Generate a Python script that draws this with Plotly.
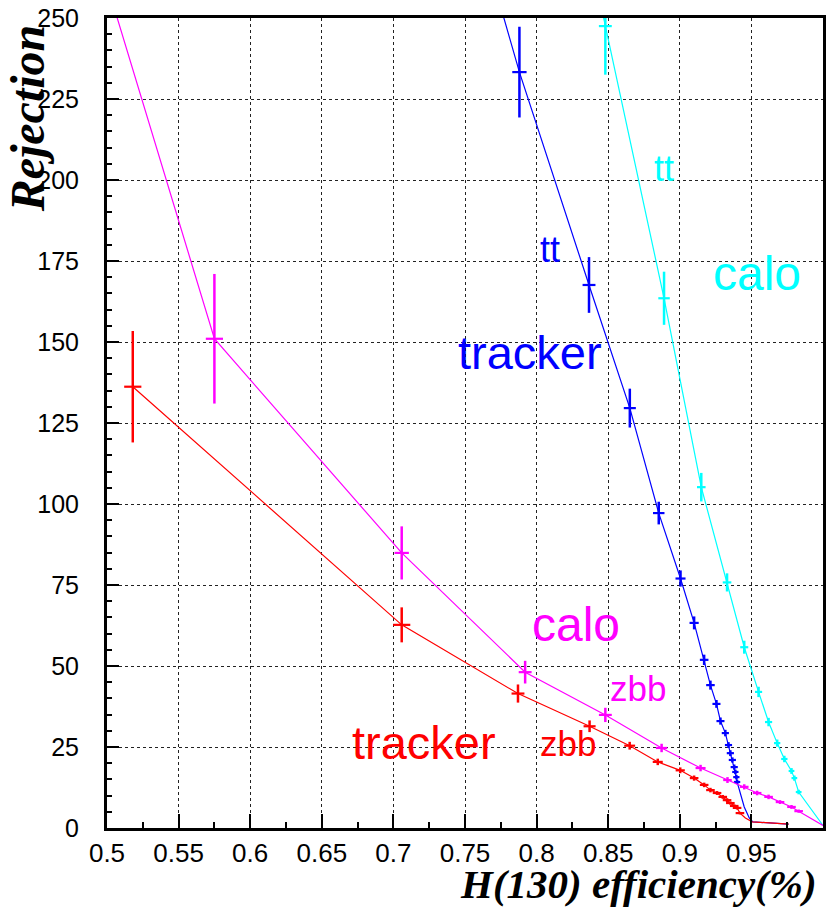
import plotly.graph_objects as go

# Rejection vs. H(130) efficiency for tracker- and calorimeter-based selections
# calo, tt background
calo_tt_eff = [0.840, 0.848, 0.889, 0.915, 0.933, 0.945, 0.955, 0.962, 0.968, 0.973, 0.978, 0.980, 0.983, 1.000]
calo_tt_rej = [264, 247.5, 163.5, 105.2, 75.8, 55.8, 42.0, 32.7, 26.2, 21.3, 17.6, 15.4, 11.1, 0.8]
calo_tt_err = [0, 15, 8.2, 4.4, 2.8, 2.0, 1.6, 1.3, 1.1, 1.0, 0.9, 0.8, 0.7, 0]
calo_tt_xerr = [0, 0.0045, 0.004, 0.003, 0.003, 0.0028, 0.0025, 0.0025, 0.0022, 0.0022, 0.002, 0.002, 0.002, 0]

# tracker, tt background
trk_tt_eff = [0.770, 0.788, 0.8366, 0.8651, 0.8853, 0.9005, 0.910, 0.917, 0.9214, 0.9256, 0.9284,
              0.9318, 0.934, 0.9353, 0.9367, 0.938, 0.9388, 0.9395, 0.940, 0.942, 0.945, 0.9485, 0.951, 0.976]
trk_tt_rej = [261, 233.3, 167.6, 129.6, 97.2, 77.0, 63.3, 51.9, 44.1, 38.3, 33.0,
              29.3, 25.6, 23.1, 21.0, 18.8, 17.3, 15.7, 14.2, 10.8, 6.5, 3.1, 1.9, 1.2]
trk_tt_err = [0, 14, 8.6, 6.0, 3.5, 2.5, 2.0, 1.6, 1.4, 1.2, 1.1,
              1.0, 0.9, 0.9, 0.8, 0.8, 0.7, 0.7, 0.7, 0, 0, 0, 0, 0]
trk_tt_xerr = [0, 0.005, 0.0045, 0.0042, 0.004, 0.0035, 0.0032, 0.003, 0.003, 0.0028, 0.0028,
               0.0025, 0.0025, 0.0025, 0.0025, 0.0025, 0.0022, 0.0022, 0.0022, 0, 0, 0, 0, 0]

# calo, zbb background
calo_zbb_eff = [0.490, 0.575, 0.7058, 0.792, 0.848, 0.8873, 0.9145, 0.9333, 0.945, 0.954, 0.962, 0.970, 0.978, 0.983, 1.000]
calo_zbb_rej = [275, 151, 84.9, 48.1, 34.9, 24.7, 18.5, 14.8, 12.7, 10.8, 9.6, 8.0, 6.5, 5.2, 0.8]
calo_zbb_err = [0, 20, 8.2, 3.5, 2.2, 1.3, 1.0, 0.9, 0.8, 0.7, 0.7, 0.6, 0.6, 0.5, 0]
calo_zbb_xerr = [0, 0.006, 0.005, 0.0045, 0.0045, 0.004, 0.0035, 0.003, 0.003, 0.003, 0.003, 0.003, 0.003, 0.003, 0]

# tracker, zbb background
trk_zbb_eff = [0.518, 0.7058, 0.787, 0.837, 0.865, 0.8846, 0.9003, 0.910, 0.917, 0.9214, 0.926,
               0.930, 0.933, 0.9353, 0.938, 0.940, 0.942, 0.9458, 0.9506, 0.976]
trk_zbb_rej = [136.2, 62.7, 41.5, 31.4, 25.4, 20.4, 17.8, 15.4, 13.3, 11.7, 10.8,
               9.6, 8.6, 7.7, 6.8, 6.2, 4.6, 3.1, 1.9, 1.2]
trk_zbb_err = [17.2, 5.4, 2.8, 1.8, 1.2, 1.0, 0.9, 0.8, 0.7, 0.7, 0.6,
               0.6, 0.6, 0.5, 0.5, 0.5, 0.4, 0, 0, 0]
trk_zbb_xerr = [0.006, 0.006, 0.0045, 0.0042, 0.0038, 0.0035, 0.0032, 0.003, 0.003, 0.003, 0.003,
                0.003, 0.003, 0.003, 0.003, 0.003, 0.003, 0, 0, 0]

x_ticks = [0.5, 0.55, 0.6, 0.65, 0.7, 0.75, 0.8, 0.85, 0.9, 0.95, 1.0]
x_tick_text = ["0.5", "0.55", "0.6", "0.65", "0.7", "0.75", "0.8", "0.85", "0.9", "0.95", "1"]
y_ticks = [0, 25, 50, 75, 100, 125, 150, 175, 200, 225, 250]

# (text, x, y, colour, size)
labels = [
    ("calo", 0.954, 171, "#00ffff", 48),
    ("tt", 0.889, 203.7, "#00ffff", 36),
    ("tt", 0.8095, 178.7, "#0000ff", 36),
    ("tracker", 0.7956, 146.9, "#0000ff", 47),
    ("calo", 0.8275, 62.7, "#ff00ff", 48),
    ("zbb", 0.8707, 43.2, "#ff00ff", 35),
    ("zbb", 0.822, 26.2, "#ff0000", 35),
    ("tracker", 0.7211, 26.5, "#ff0000", 47),
]

series = [
    (calo_tt_eff, calo_tt_rej, calo_tt_err, calo_tt_xerr, "#00ffff"),
    (trk_tt_eff, trk_tt_rej, trk_tt_err, trk_tt_xerr, "#0000ff"),
    (calo_zbb_eff, calo_zbb_rej, calo_zbb_err, calo_zbb_xerr, "#ff00ff"),
    (trk_zbb_eff, trk_zbb_rej, trk_zbb_err, trk_zbb_xerr, "#ff0000"),
]

fig = go.Figure()
for xs, ys, es, exs, col in series:
    # connecting curve through every point
    fig.add_trace(go.Scatter(x=xs, y=ys, mode="lines",
                             line=dict(color=col, width=1.2),
                             hoverinfo="skip", showlegend=False))
    # measured points with error bars in both directions
    keep = [i for i, e in enumerate(es) if e > 0]
    fig.add_trace(go.Scatter(x=[xs[i] for i in keep], y=[ys[i] for i in keep], mode="markers",
                             marker=dict(size=1, color=col),
                             error_y=dict(type="data", array=[es[i] for i in keep], visible=True,
                                          color=col, thickness=2.5, width=0),
                             error_x=dict(type="data", array=[exs[i] for i in keep], visible=True,
                                          color=col, thickness=2.2, width=0),
                             showlegend=False))

for text, x, y, col, size in labels:
    fig.add_annotation(x=x, y=y, xref="x", yref="y", text=text, showarrow=False,
                       font=dict(family="Liberation Sans", size=size, color=col),
                       xanchor="center", yanchor="middle")

serif = dict(family="Liberation Serif", size=41, color="black", weight="bold", style="italic")
fig.add_annotation(x=0.9944, y=-0.1, xref="paper", yref="paper",
                   text="H(130) efficiency(%)", showarrow=False,
                   font=serif, xanchor="right", yanchor="bottom")
fig.add_annotation(x=-0.1113, y=0.8765, xref="paper", yref="paper",
                   text="Rejection", showarrow=False, textangle=-90,
                   font=dict(serif, size=48), xanchor="center", yanchor="middle")

grid = dict(showgrid=True, gridcolor="#222222", griddash="dot", gridwidth=1,
            showline=True, linecolor="black", linewidth=3, mirror=True,
            ticks="inside", tickcolor="black", zeroline=False)

fig.update_xaxes(range=[0.5, 1.0], tickvals=x_ticks, ticktext=x_tick_text,
                 ticklen=14, tickwidth=1.5,
                 minor=dict(dtick=0.025, tick0=0.5, ticklen=6, tickcolor="black", ticks="inside", showgrid=False),
                 tickfont=dict(family="Liberation Sans", size=26, color="black"), **grid)
fig.update_yaxes(range=[0, 250], tickvals=y_ticks,
                 ticklen=12, tickwidth=1.5, ticklabelstandoff=20,
                 minor=dict(dtick=5, tick0=0, ticklen=5, tickcolor="black", ticks="inside", showgrid=False),
                 tickfont=dict(family="Liberation Sans", size=25, color="black"), **grid)

fig.update_layout(width=829, height=911,
                  margin=dict(l=107, r=3, t=18, b=83),
                  paper_bgcolor="white", plot_bgcolor="white")

fig.write_html("out.html")
